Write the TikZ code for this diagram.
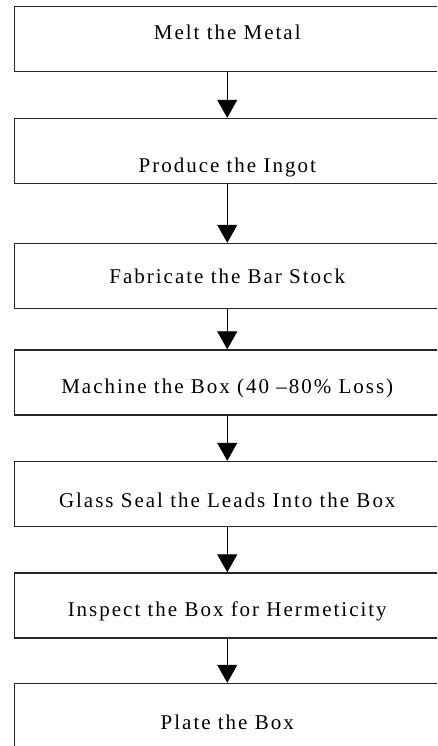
\documentclass[tikz,border=0pt]{standalone}
\usepackage{fontspec}
\usepackage{tikz}
\usetikzlibrary{arrows.meta,positioning}
\newfontfamily\stepfont[LetterSpace=9.5]{Liberation Serif}

\tikzset{
  stepbox/.style={draw=black!85,line width=1.4pt,fill=white,
    minimum width=425.5pt,minimum height=65pt,inner sep=0pt,
    font={\stepfont\fontsize{21}{24}\selectfont}},
  flow/.style={-{Triangle[length=18pt,width=20pt]},line width=1.2pt}
}

\begin{document}
\begin{tikzpicture}[x=1pt,y=-1pt]

  % Cadre
  \useasboundingbox (0,0) rectangle (437,746);
  \fill[white] (0,0) rectangle (437,746);
  \clip (0,0) rectangle (437,746);

  % Etapes (centre, decalage du texte)
  \foreach \i/\y/\r/\txt in {1/39/-1/Melt the Metal, 2/151/-21/Produce the Ingot,
      3/276/-7/Fabricate the Bar Stock,
      4/382.5/-11/Machine the Box (40 \textendash80\% Loss),
      5/494/-13/Glass Seal the Leads Into the Box,
      6/605.5/-11/Inspect the Box for Hermeticity, 7/716/-13/Plate the Box} {
    \node[stepbox] (s\i) at (227.25,\y) {\raisebox{\r pt}[0pt][0pt]{\txt}};
  }

  % Fleches
  \foreach \i/\j in {1/2,2/3,3/4,4/5,5/6,6/7} {
    \draw[flow] (s\i.south) -- (s\j.north);
  }

\end{tikzpicture}
\end{document}
